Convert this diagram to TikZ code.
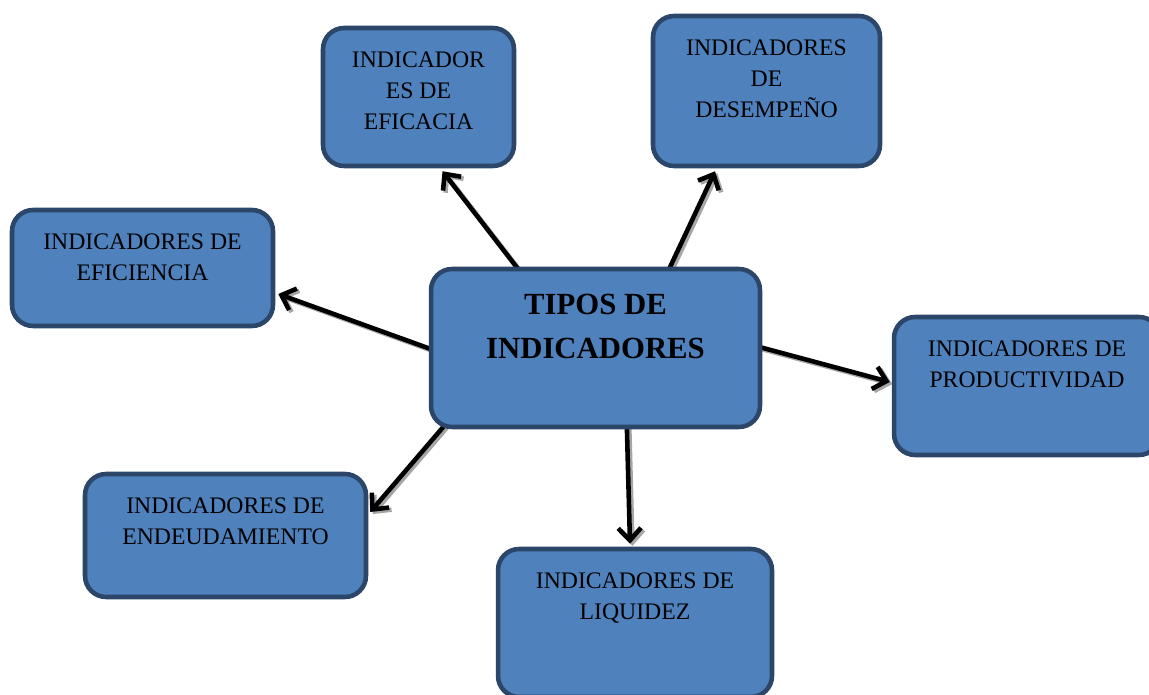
\documentclass[tikz,border=0pt]{standalone}
\usepackage{fontspec}
\setmainfont{Liberation Serif}
\usetikzlibrary{positioning,arrows.meta,backgrounds}
\definecolor{boxblue}{HTML}{4F81BD}
\definecolor{boxedge}{HTML}{2B4669}
\definecolor{arrowshade}{HTML}{A6A6A6}
\tikzset{
	box/.style={draw=boxedge, fill=boxblue, line width=2.6pt, rounded corners=12pt, inner sep=0pt},
	boxtext/.style={inner sep=0pt, align=center, font=\fontsize{13.5}{17.6}\selectfont},
	titletext/.style={inner sep=0pt, align=center, font=\bfseries\fontsize{17.5}{25}\selectfont},
	link/.style={line width=2.6pt, -{Straight Barb[length=7pt,width=13pt]}},
	linkshade/.style={link, draw=arrowshade, transform canvas={shift={(1.4pt,-1.2pt)}}}
}
\def\linkarrow(#1)(#2){\draw[linkshade] (#1) -- (#2); \draw[link] (#1) -- (#2);}

\begin{document}
\begin{tikzpicture}[x=0.02cm, y=-0.02cm]
			%%%%% FRAME %%%%%
			\useasboundingbox (0,0) rectangle (1149,695);
			\clip (0,0) rectangle (1149,695);
			
			%%%%% BOXES %%%%%
			\node[box, minimum width=6.58cm, minimum height=3.16cm] (tipos) at (595.5,348) {};
			\node[box, minimum width=3.82cm, minimum height=2.76cm] (efic) at (418.5,97) {};
			\node[box, minimum width=4.54cm, minimum height=3.00cm] (desem) at (766.5,91) {};
			\node[box, minimum width=5.22cm, minimum height=2.32cm] (efici) at (142.5,268) {};
			\node[box, minimum width=5.32cm, minimum height=2.76cm] (produc) at (1027,386) {};
			\node[box, minimum width=5.62cm, minimum height=2.46cm] (endeu) at (225.5,535.5) {};
			\node[box, minimum width=5.48cm, minimum height=2.96cm] (liqui) at (635,623) {};
			
			\node[titletext, below=15.5pt of tipos.north] (tiposT) {TIPOS DE\\INDICADORES};
			\node[boxtext, below=14.5pt of efic.north] (eficT) {INDICADOR\\ES DE\\EFICACIA};
			\node[boxtext, below=14.5pt of desem.north] (desemT) {INDICADORES\\DE\\DESEMPEÑO};
			\node[boxtext, below=14.5pt of efici.north] (eficiT) {INDICADORES DE\\EFICIENCIA};
			\node[boxtext, below=14.5pt of produc.north] (producT) {INDICADORES DE\\PRODUCTIVIDAD};
			\node[boxtext, below=14.5pt of endeu.north] (endeuT) {INDICADORES DE\\ENDEUDAMIENTO};
			\node[boxtext, below=14.5pt of liqui.north] (liquiT) {INDICADORES DE\\LIQUIDEZ};
			
			%%%%% ARROWS %%%%%
			\begin{scope}[on background layer]
				\linkarrow([shift={(-71.5,10)}]tipos.north)([shift={(24,3)}]efic.south)
				\linkarrow([shift={(70,10)}]tipos.north)([shift={(-51.5,3)}]desem.south)
				\linkarrow([shift={(13,5)}]tipos.west)([shift={(3,26)}]efici.east)
				\linkarrow([shift={(-14,-4)}]tipos.east)([shift={(-2,-4)}]produc.west)
				\linkarrow([shift={(-140.5,-16)}]tipos.south)([shift={(2,-23.5)}]endeu.east)
				\linkarrow([shift={(31,-16)}]tipos.south)([shift={(-5,-3)}]liqui.north)
			\end{scope}
\end{tikzpicture}
\end{document}
